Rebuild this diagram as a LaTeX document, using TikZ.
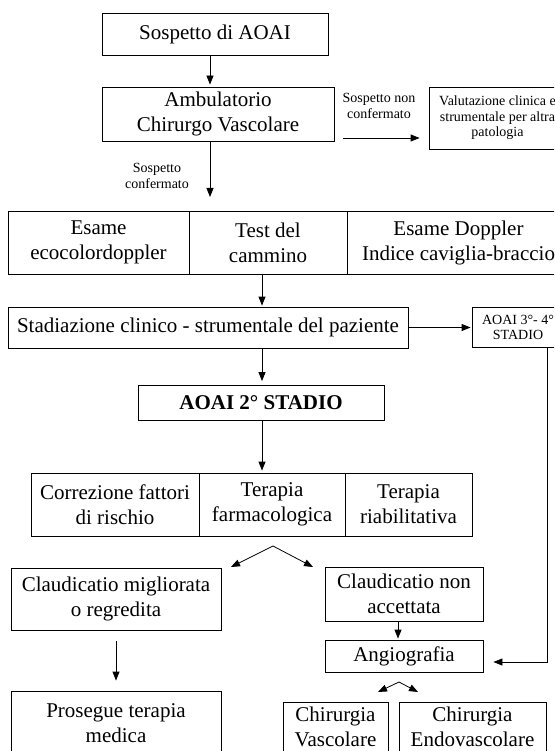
\documentclass[tikz,border=0pt]{standalone}
\usepackage{fontspec}
\setmainfont{Liberation Serif}
\usetikzlibrary{arrows.meta}

\tikzset{
	box/.style={draw, line width=0.8pt, align=center, inner sep=1pt,
		font=\fontsize{21}{25}\selectfont},
	smallbox/.style={box, font=\fontsize{14}{15.5}\selectfont},
	note/.style={align=center, inner sep=0pt, font=\fontsize{14}{15.5}\selectfont},
	arr/.style={-{Triangle[length=9pt,width=7pt]}, line width=0.8pt},
}

\begin{document}
\begin{tikzpicture}[x=1pt,y=-1pt]
	\useasboundingbox (0,0) rectangle (554,751);
	\clip (0,0) rectangle (554,751);

	% first visit
	\node[box, minimum width=226pt, minimum height=42pt] (susp) at (215,34) {Sospetto di AOAI};
	\node[box, minimum width=232pt, minimum height=54pt] (amb) at (218,114) {Ambulatorio\\Chirurgo Vascolare};
	\node[smallbox, minimum width=137pt, minimum height=62pt] (valut) at (497.5,118) {Valutazione clinica e\\strumentale per altra\\patologia};
	\node[note] (nonconf) at (379,106) {Sospetto non\\confermato};
	\node[note] (conf) at (157,176) {Sospetto\\confermato};

	% exams
	\node[box, minimum width=181pt, minimum height=63pt] (ecd) at (98.5,242.5) {Esame\\ecocolordoppler};
	\node[box, minimum width=158pt, minimum height=63pt] (walk) at (268,242.5) {Test del\\cammino};
	\node[box, minimum width=223pt, minimum height=63pt] (abi) at (458.5,242.5) {Esame Doppler\\Indice caviglia-braccio};

	% staging
	\node[box, minimum width=400pt, minimum height=41pt] (stad) at (208,327.5) {Stadiazione clinico - strumentale del paziente};
	\node[smallbox, minimum width=92pt, minimum height=40pt] (st34) at (518,327.5) {AOAI 3°- 4°\\STADIO};
	\node[box, font=\fontsize{21}{25}\selectfont\bfseries, minimum width=246pt, minimum height=35pt] (st2) at (261,403) {AOAI 2° STADIO};

	% therapy
	\node[box, minimum width=168pt, minimum height=63pt] (risk) at (115,504.5) {Correzione fattori\\di rischio};
	\node[box, minimum width=146pt, minimum height=63pt] (drug) at (272,504.5) {Terapia\\farmacologica};
	\node[box, minimum width=127pt, minimum height=63pt] (rehab) at (408.5,504.5) {Terapia\\riabilitativa};

	% outcome
	\node[box, minimum width=210pt, minimum height=62pt] (better) at (116,599) {Claudicatio migliorata\\o regredita};
	\node[box, minimum width=158pt, minimum height=54pt] (notacc) at (404,594) {Claudicatio non\\accettata};
	\node[box, minimum width=158pt, minimum height=32pt] (angio) at (404,656) {Angiografia};
	\node[box, minimum width=210pt, minimum height=64pt] (cont) at (116,723) {Prosegue terapia\\medica};
	\node[box, minimum width=105pt, minimum height=50pt] (vasc) at (335.5,727) {Chirurgia\\Vascolare};
	\node[box, minimum width=147pt, minimum height=50pt] (endo) at (472.5,727) {Chirurgia\\Endovascolare};

	\coordinate (axis) at (262,0);
	\coordinate (side) at (0,138);
	\coordinate (down) at (210,197);
	\coordinate (turn) at (547,0);
	\coordinate (fork1) at (273,546);
	\coordinate (left1) at (231,567);
	\coordinate (right1) at (313,567);
	\coordinate (fork2) at (399,682);
	\coordinate (left2) at (378,692);
	\coordinate (right2) at (418,692);

	\draw[arr, shorten >=2pt] ([xshift=-5pt]susp.south) -- ([xshift=-5pt]susp.south |- amb.north);
	\draw[arr, shorten <=9pt, shorten >=9pt] (amb.east |- side) -- (valut.west |- side);
	\draw[arr] (amb.south -| down) -- (down);
	\draw[arr, shorten >=1pt] (ecd.south -| axis) -- (stad.north -| axis);
	\draw[arr, shorten >=1pt] (stad.east) -- (st34.west);
	\draw[arr, shorten >=4pt] (stad.south -| axis) -- (st2.north -| axis);
	\draw[arr, shorten >=2pt] (st2.south -| axis) -- (drug.north -| axis);
	\draw[arr, shorten >=10pt] (st34.south -| turn) |- ([yshift=-6pt]angio.east);
	\draw[arr] (fork1) -- (left1);
	\draw[arr] (fork1) -- (right1);
	\draw[arr, shorten <=11pt, shorten >=10pt] (better.south) -- (cont.north);
	\draw[arr, shorten >=1pt] ([xshift=-6pt]notacc.south) -- ([xshift=-6pt]angio.north);
	\draw[arr] (fork2) -- (left2);
	\draw[arr] (fork2) -- (right2);
\end{tikzpicture}
\end{document}
